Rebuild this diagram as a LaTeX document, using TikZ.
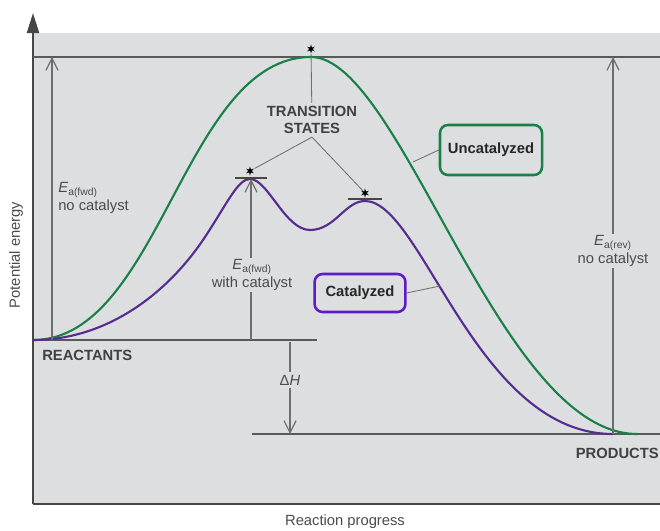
\documentclass[tikz,border=0pt]{standalone}
\usepackage{fontspec}
\setmainfont{Liberation Sans}
\usetikzlibrary{arrows.meta,shapes.geometric}
\definecolor{bggray}{RGB}{220,222,223}
\definecolor{axisgray}{RGB}{70,70,70}
\definecolor{linegray}{RGB}{110,110,110}
\definecolor{textgray}{RGB}{75,75,75}
\definecolor{uncatgreen}{RGB}{25,128,72}
\definecolor{catpurple}{RGB}{85,45,145}
\definecolor{boxpurple}{RGB}{95,25,200}
\begin{document}
\begin{tikzpicture}[x=0.025cm, y=-0.025cm,
  every node/.style={font=\fontsize{10.5}{12.5}\selectfont, text=textgray},
  axisline/.style={draw=axisgray, line width=1.5pt},
  level/.style={draw=axisgray!90, line width=1.2pt},
  ealine/.style={draw=linegray, line width=0.8pt, -{Straight Barb[length=3mm,width=3mm]}},
  pointer/.style={draw=linegray, line width=0.6pt},
  tsmark/.style={star, star points=6, star point ratio=2.6, fill=black, inner sep=0pt, minimum size=2.3mm},
  tsbar/.style={draw=axisgray, line width=1pt},
  labelbox/.style={rounded corners=2mm, line width=1.8pt, fill=bggray, font=\fontsize{10.5}{12.5}\selectfont\bfseries, text=black!85},
  caption/.style={font=\fontsize{10.5}{12.5}\selectfont\bfseries, text=black!75, inner sep=0pt}]
\useasboundingbox (0,0) rectangle (660,531);
\fill[bggray] (33,33) rectangle (660,504);
% axes and energy levels
\draw[axisline] (660,504) -- (33,504);
\draw[axisline, -{Triangle[length=5mm,width=3mm]}] (33,504) -- (33,13);
\draw[level] (33,57) -- (660,57);
\draw[level] (33,340) -- (317,340);
\draw[level] (252,434) -- (660,434);
\coordinate (r1) at (52,340);
\coordinate (t1) at (52,57);
\coordinate (r2) at (251,340);
\coordinate (p1) at (251,179);
\coordinate (r3) at (290,342);
\coordinate (q3) at (290,434);
\coordinate (q4) at (613,434);
\coordinate (t4) at (613,57);
% curves
\draw[uncatgreen, line width=1.5pt] (33,340) .. controls (160,340) and (184,57) .. (311,57)
  .. controls (401,57) and (499,434) .. (637,434);
\draw[catpurple, line width=1.5pt] (33,340) .. controls (110,340) and (170,290) .. (205,237)
  .. controls (228,202) and (238,179) .. (250,179)
  .. controls (268,179) and (285,230) .. (310,230)
  .. controls (335,230) and (345,201) .. (365,201)
  .. controls (422,201) and (476,434) .. (613,434);
% transition states
\draw[tsbar] (235,178) -- (267,178);
\draw[tsbar] (348,199) -- (382,199);
\node[tsmark] (tsU) at (311,49) {};
\node[tsmark] (tsA) at (250,171) {};
\node[tsmark] (tsB) at (365,193) {};
\node[caption, align=center, inner sep=2pt] (trans) at (312,120) {TRANSITION\\STATES};
\draw[pointer] (tsU) -- (trans);
\draw[pointer] (trans.south) -- (tsA);
\draw[pointer] (trans.south) -- (tsB);
% activation energies
\draw[ealine] (r1) -- (t1);
\node[anchor=west, align=left, inner sep=0pt] (ea1) at (58,198) {\textit{E}\textsubscript{a(fwd)}\\no catalyst};
\draw[ealine] (r2) -- (p1);
\node[fill=bggray, align=center, inner sep=1pt] (ea2) at (252,275) {\textit{E}\textsubscript{a(fwd)}\\with catalyst};
\draw[ealine] (q4) -- (t4);
\node[fill=bggray, align=center, inner sep=1pt] (ea4) at (613,251) {\textit{E}\textsubscript{a(rev)}\\no catalyst};
\draw[ealine] (r3) -- (q3);
\node[fill=bggray, inner sep=2pt] (dh) at (290,380) {Δ\textit{H}};
% curve labels
\coordinate (gU) at (413,162);
\coordinate (pC) at (440,286);
\node[labelbox, draw=uncatgreen, minimum width=2.55cm, minimum height=1.25cm] (uncat) at (491,150) {Uncatalyzed};
\node[labelbox, draw=boxpurple, minimum width=2.27cm, minimum height=0.95cm] (cat) at (360,293) {Catalyzed};
\draw[pointer] (uncat.west) -- (gU);
\draw[pointer] (cat.east) -- (pC);
% level and axis names
\node[caption, anchor=west] (react) at (42,355) {REACTANTS};
\node[caption, anchor=east] (prod) at (659,453) {PRODUCTS};
\node[rotate=90] (yl) at (16,255) {Potential energy};
\node (xl) at (345,522) {Reaction progress};
\end{tikzpicture}
\end{document}
